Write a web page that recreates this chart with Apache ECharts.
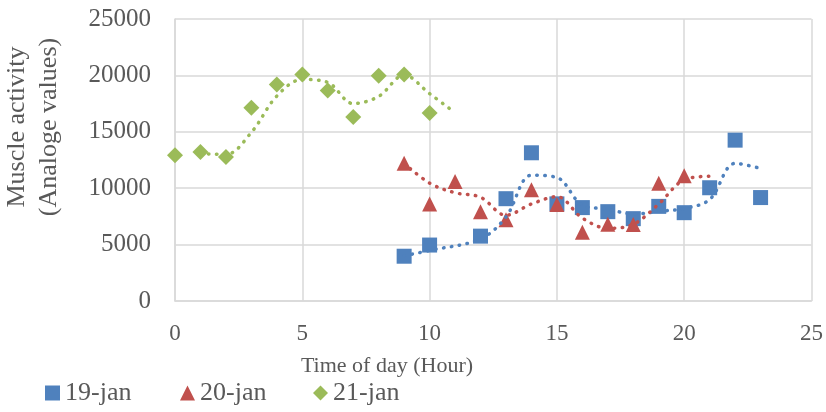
<!DOCTYPE html>
<html>
<head>
<meta charset="utf-8">
<script src="https://cdn.jsdelivr.net/npm/echarts@6/dist/echarts.min.js"></script>
<style>
html,body{margin:0;padding:0;background:#fff;}
#chart{width:826px;height:412px;}
</style>
</head>
<body>
<div id="chart"></div>
<script>
// ---- data ----
var seriesNames = ['19-jan', '20-jan', '21-jan'];

var hours19 = [9, 10, 12, 13, 14, 15, 16, 17, 18, 19, 20, 21, 22, 23];
var values19 = [3970, 4960, 5750, 9070, 13140, 8610, 8280, 7920, 7300, 8390, 7830, 10040, 14260, 9170];

var hours20 = [9, 10, 11, 12, 13, 14, 15, 16, 17, 18, 19, 20];
var values20 = [12210, 8610, 10600, 7920, 7200, 9870, 8560, 6090, 6810, 6780, 10440, 11100];

var hours21 = [0, 1, 2, 3, 4, 5, 6, 7, 8, 9, 10];
var values21 = [12920, 13210, 12770, 17140, 19200, 20090, 18670, 16310, 19970, 20090, 16660];

// dotted trend lines
var trendHours19 = [9, 10, 12, 13, 14, 15, 16, 17, 18, 19, 20, 21, 22, 23];
var trendValues19 = [4000, 4480, 5500, 7450, 11150, 10950, 8500, 8150, 7700, 7950, 8200, 9000, 12200, 11750];

var trendHours20 = [9, 10, 11, 12, 13, 14, 15, 16, 17, 18, 19, 20, 21];
var trendValues20 = [12200, 10450, 9600, 9200, 7600, 8600, 9250, 7350, 6450, 6800, 8600, 10750, 11060];

var trendHours21 = [1, 2, 3, 4, 5, 6, 7, 8, 9, 10, 11];
var trendValues21 = [13070, 12990, 14950, 18170, 19640, 19380, 17500, 18140, 20030, 18380, 16700];

var xTicks = [0, 5, 10, 15, 20, 25];
var yTicks = [0, 5000, 10000, 15000, 20000, 25000];

var xTitle = 'Time of day (Hour)';
var yTitle = 'Muscle activity\n(Analoge values)';

// ---- build ----
function pairs(xs, ys) { return xs.map(function (x, i) { return [x, ys[i]]; }); }

var colors = ['#4F81BD', '#C0504D', '#9BBB59'];
var symbols = ['rect', 'triangle', 'diamond'];
var symbolSizes = [15, 15, 16];
var legendLefts = [40, 175, 308];
var pts = [pairs(hours19, values19), pairs(hours20, values20), pairs(hours21, values21)];
var trends = [pairs(trendHours19, trendValues19), pairs(trendHours20, trendValues20), pairs(trendHours21, trendValues21)];

var FONT = "'Liberation Serif', 'Times New Roman', serif";
var TXT = '#595959';

var series = [];
for (var i = 0; i < 3; i++) {
  series.push({
    name: seriesNames[i], type: 'scatter', data: pts[i],
    symbol: symbols[i], symbolSize: symbolSizes[i],
    itemStyle: { color: colors[i], opacity: 1 }, z: 2
  });
}
for (var j = 0; j < 3; j++) {
  series.push({
    name: seriesNames[j] + ' trend', type: 'line', data: trends[j],
    smooth: 0.35, showSymbol: false, symbol: 'none', silent: true,
    lineStyle: { color: colors[j], width: 3.5, type: [0.5, 7.5], cap: 'round' },
    z: 3
  });
}

var legends = seriesNames.map(function (n, k) {
  return {
    data: [{ name: n, icon: symbols[k] }],
    left: legendLefts[k], bottom: 1, itemWidth: 15, itemHeight: 15,
    textStyle: { color: TXT, fontFamily: FONT, fontSize: 26 }
  };
});

var chart = echarts.init(document.getElementById('chart'), null, { renderer: 'canvas' });
chart.setOption({
  animation: false,
  backgroundColor: '#fff',
  grid: { left: 175, right: 14, top: 19, bottom: 111, containLabel: false },
  xAxis: {
    type: 'value', min: xTicks[0], max: xTicks[xTicks.length - 1], interval: xTicks[1] - xTicks[0],
    axisLine: { show: true, lineStyle: { color: '#D9D9D9', width: 1.5 } },
    axisTick: { show: false },
    splitLine: { show: true, lineStyle: { color: '#D9D9D9', width: 1.5 } },
    axisLabel: { color: TXT, fontFamily: FONT, fontSize: 23, margin: 21, formatter: function (v) { return String(v); } }
  },
  yAxis: {
    type: 'value', min: yTicks[0], max: yTicks[yTicks.length - 1], interval: yTicks[1] - yTicks[0],
    axisLine: { show: true, lineStyle: { color: '#D9D9D9', width: 1.5 } },
    axisTick: { show: false },
    splitLine: { show: true, lineStyle: { color: '#D9D9D9', width: 1.5 } },
    axisLabel: { color: TXT, fontFamily: FONT, fontSize: 25, margin: 24, formatter: function (v) { return String(v); } }
  },
  legend: legends,
  graphic: [
    { type: 'text', x: 387, y: 366, style: { text: xTitle, fill: TXT, font: '22px ' + FONT, align: 'center', verticalAlign: 'middle' } },
    { type: 'text', x: 33, y: 127, rotation: Math.PI / 2, style: { text: yTitle, fill: TXT, font: '26px ' + FONT, align: 'center', verticalAlign: 'middle', lineHeight: 32 } }
  ],
  series: series
});
</script>
</body>
</html>
